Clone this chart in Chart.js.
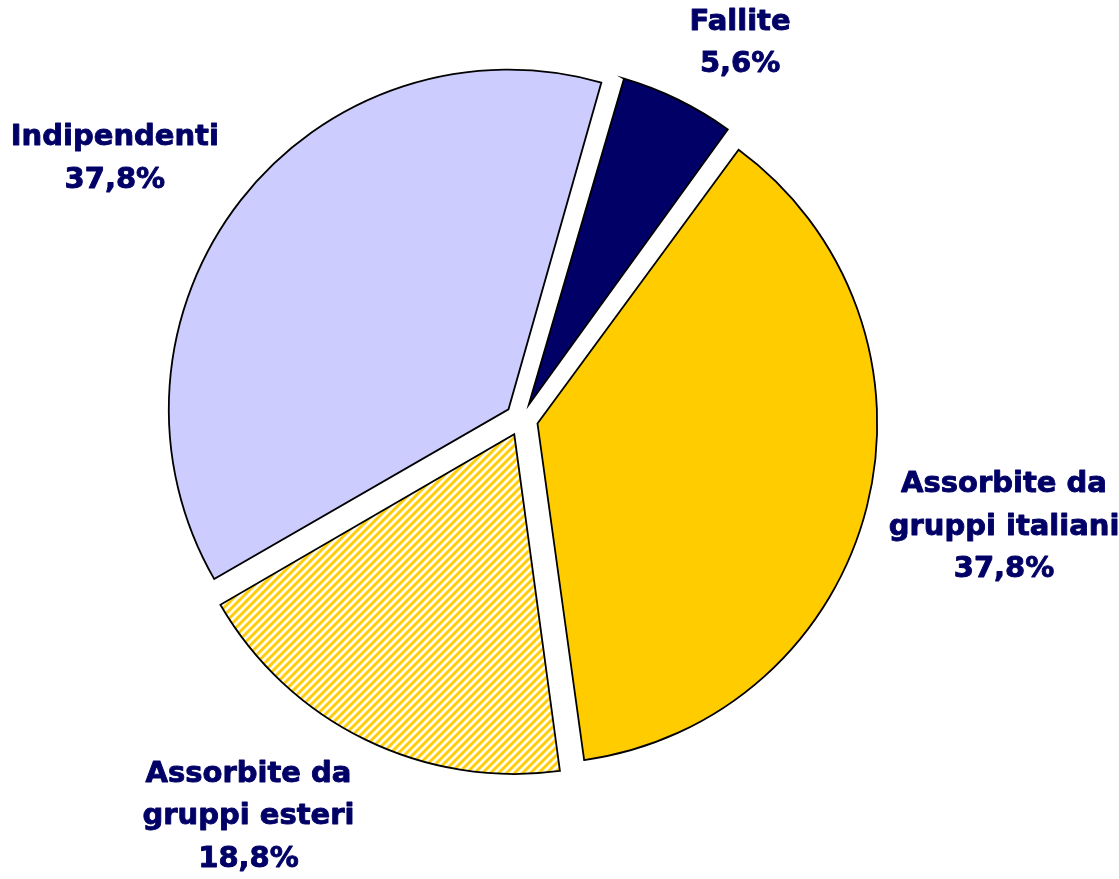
<!DOCTYPE html>
<html>
<head>
<meta charset="utf-8">
<script src="https://cdn.jsdelivr.net/npm/chart.js@4/dist/chart.umd.min.js"></script>
<style>
  body { margin: 0; background: #fff; }
</style>
</head>
<body>
<canvas id="myChart" width="1119" height="879"></canvas>
<script>
// dati
const categories = ['Fallite', 'Assorbite da gruppi italiani', 'Assorbite da gruppi esteri', 'Indipendenti'];
const labelLines = [['Fallite'], ['Assorbite da', 'gruppi italiani'], ['Assorbite da', 'gruppi esteri'], ['Indipendenti']];
const values = [5.6, 37.8, 18.8, 37.8];

const navy = '#000066';
const yellow = '#FFCC00';
const lilac = '#CCCCFF';

// tratteggio diagonale per "gruppi esteri"
function makeStripes() {
    var c = document.createElement('canvas');
    c.width = 8; c.height = 8;
    var g = c.getContext('2d');
    g.fillStyle = '#fff';
    g.fillRect(0, 0, 8, 8);
    g.strokeStyle = yellow;
    g.lineWidth = 3;
    g.beginPath();
    g.moveTo(-2, 10); g.lineTo(10, -2);
    g.moveTo(-2, 2); g.lineTo(2, -2);
    g.moveTo(6, 10); g.lineTo(10, 6);
    g.stroke();
    return g.createPattern(c, 'repeat');
}

function pct(v) {
    return v.toFixed(1).replace('.', ',') + '%';
}

// Chart.js allarga il raggio delle fette esplose, qui lo rimetto uguale per tutte
const sameRadius = {
    id: 'sameRadius',
    beforeDatasetsDraw(chart) {
        const meta = chart.getDatasetMeta(0);
        const base = meta.controller.outerRadius;
        meta.data.forEach(function(arc) {
            const fix = 1 - Math.sin(Math.min(Math.PI, arc.circumference));
            arc.outerRadius = base - (arc.options.offset / 4) * fix;
        });
    }
};

const sliceLabels = {
    id: 'sliceLabels',
    afterDatasetsDraw(chart, args, opts) {
        const ctx = chart.ctx;
        const meta = chart.getDatasetMeta(0);
        const R = meta.controller.outerRadius;
        ctx.save();
        ctx.font = opts.font;
        ctx.fillStyle = opts.color;
        ctx.strokeStyle = opts.color;
        ctx.lineWidth = 0.9;
        ctx.lineJoin = 'round';
        ctx.textAlign = 'center';
        ctx.textBaseline = 'middle';
        meta.data.forEach(function(arc, i) {
            const lines = labelLines[i].concat([pct(values[i])]);
            const mid = (arc.startAngle + arc.endAngle) / 2;
            const ux = Math.cos(mid), uy = Math.sin(mid);
            const dist = R + arc.options.offset / 4 + opts.gap;
            let w = 0;
            lines.forEach(function(l) { w = Math.max(w, ctx.measureText(l).width); });
            const h = lines.length * opts.lineHeight;
            const shift = opts.shift[i] || [0, 0];
            const cx = arc.x + ux * dist + ux * w / 2 + shift[0];
            const cy = arc.y + uy * dist + uy * h / 2 + shift[1];
            lines.forEach(function(l, k) {
                const y = cy - h / 2 + opts.lineHeight * (k + 0.5);
                ctx.fillText(l, cx, y);
                ctx.strokeText(l, cx, y);
            });
        });
        ctx.restore();
    }
};

var ctx = document.getElementById('myChart').getContext('2d');
var myChart = new Chart(ctx, {
    type: 'pie',
    data: {
        labels: categories,
        datasets: [{
            data: values,
            backgroundColor: [navy, yellow, makeStripes(), lilac],
            borderColor: '#000',
            borderWidth: 1.8,
            borderJoinStyle: 'miter',
            offset: 66,
            hoverOffset: 0
        }]
    },
    options: {
        responsive: false,
        animation: false,
        events: [],
        rotation: 16,
        layout: {
            padding: { left: 121.5, top: 45.9, right: 197.5, bottom: 85.9 }
        },
        plugins: {
            legend: { display: false },
            tooltip: { enabled: false },
            sliceLabels: {
                font: 'bold 29px "DejaVu Sans"',
                color: navy,
                lineHeight: 42.5,
                gap: 20,
                shift: [[31, 0], [6, 0], [-61, 2], [-28, -3]]
            }
        }
    },
    plugins: [sameRadius, sliceLabels]
});
</script>
</body>
</html>
